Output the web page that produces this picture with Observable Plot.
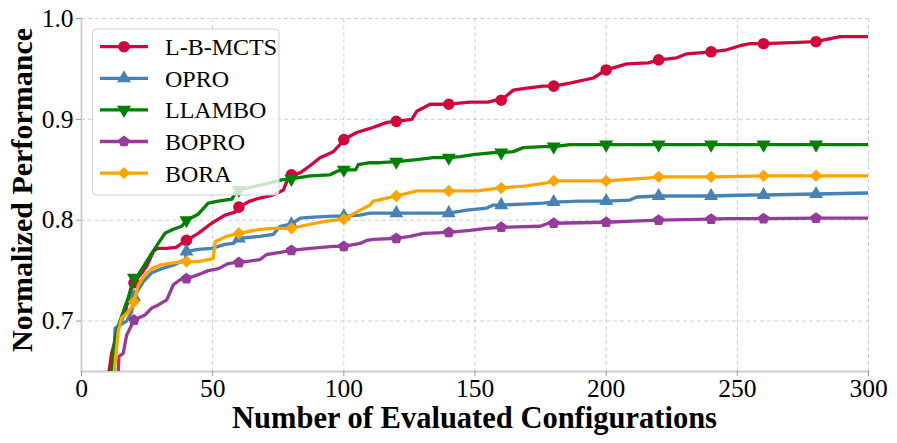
<!DOCTYPE html>
<html><head><meta charset="utf-8">
<script src="https://cdn.jsdelivr.net/npm/d3@7"></script>
<script src="https://cdn.jsdelivr.net/npm/@observablehq/plot@0.6"></script>
<style>body{margin:0;background:#fff}</style>
</head><body><div id="chart"></div>
<script>
const seriesNames = ["L-B-MCTS", "OPRO", "LLAMBO", "BOPRO", "BORA"];
const seriesColors = ["#d1063c", "#4682b4", "#008000", "#983a9c", "#ffa500"];
const xTicks = [0, 50, 100, 150, 200, 250, 300];
const yTicks = [0.7, 0.8, 0.9, 1.0];
const markerXs = [20, 40, 60, 80, 100, 120, 140, 160, 180, 200, 220, 240, 260, 280];

const lbmctsX = [10.5, 11.5, 14, 16.6, 19.1, 20, 23, 24.8, 27.4, 28.7, 32.5, 36, 38.2, 40, 44.5, 49.6, 54.7, 58.5, 60, 64.2, 68, 73.1, 77, 78.8, 80, 83.3, 87.1, 90.9, 96, 98.5, 100, 104.9, 110, 116.4, 120, 125.9, 127.8, 132.9, 140, 148.1, 155, 157.9, 160, 164.6, 169.7, 176, 180, 186.2, 195.1, 200, 207.9, 216, 220, 226.9, 230.7, 240, 246, 251, 254.9, 260, 271, 280, 285.4, 289.2, 300];
const lbmctsY = [0.65, 0.668, 0.693, 0.709, 0.733, 0.738, 0.748, 0.754, 0.769, 0.772, 0.772, 0.773, 0.777, 0.780, 0.787, 0.797, 0.805, 0.808, 0.813, 0.819, 0.822, 0.825, 0.830, 0.842, 0.845, 0.847, 0.854, 0.862, 0.868, 0.875, 0.880, 0.887, 0.891, 0.897, 0.898, 0.900, 0.908, 0.915, 0.915, 0.917, 0.917, 0.919, 0.919, 0.929, 0.931, 0.933, 0.933, 0.936, 0.941, 0.949, 0.955, 0.956, 0.959, 0.961, 0.965, 0.967, 0.969, 0.973, 0.975, 0.975, 0.976, 0.977, 0.980, 0.982, 0.982];

const oproX = [12.1, 12.8, 17.2, 19.1, 20, 23.6, 26.8, 30.6, 35.6, 39.5, 40, 44.5, 49.6, 54.7, 57.9, 60, 68, 73.1, 75.7, 80, 83.3, 88.4, 96, 100, 106.2, 110, 113.8, 120, 131.6, 140, 146.9, 154.5, 157, 160, 168.4, 176, 180, 190, 200, 209, 211.7, 220, 240, 254.9, 260, 280, 300];
const oproY = [0.65, 0.693, 0.700, 0.709, 0.724, 0.739, 0.748, 0.752, 0.756, 0.761, 0.769, 0.771, 0.772, 0.776, 0.777, 0.782, 0.784, 0.786, 0.794, 0.796, 0.802, 0.803, 0.804, 0.804, 0.805, 0.807, 0.807, 0.807, 0.807, 0.807, 0.810, 0.812, 0.815, 0.815, 0.816, 0.817, 0.818, 0.819, 0.819, 0.820, 0.823, 0.824, 0.824, 0.825, 0.825, 0.826, 0.827];

const llamboX = [11.5, 12.8, 14, 17.8, 20, 21.7, 25.5, 28, 31.8, 35, 38.2, 40, 44.5, 48.3, 52.2, 57.3, 59.2, 60, 66.8, 71.9, 76.3, 80, 87.1, 94.7, 97.9, 100, 104.5, 105.5, 110, 113.8, 120, 127.8, 134.1, 140, 144.3, 149.4, 157, 160, 164.6, 168.4, 176, 180, 186.2, 200, 220, 240, 260, 280, 300];
const llamboY = [0.65, 0.683, 0.695, 0.723, 0.743, 0.746, 0.762, 0.772, 0.787, 0.791, 0.794, 0.800, 0.806, 0.817, 0.819, 0.821, 0.829, 0.830, 0.834, 0.837, 0.840, 0.841, 0.844, 0.845, 0.849, 0.850, 0.850, 0.855, 0.857, 0.857, 0.858, 0.860, 0.862, 0.862, 0.863, 0.865, 0.867, 0.867, 0.868, 0.872, 0.873, 0.873, 0.875, 0.875, 0.875, 0.875, 0.875, 0.875, 0.875];

const boproX = [14.0, 14.3, 15.9, 17.2, 19.1, 20, 24.2, 26.8, 29.3, 32.5, 35, 37.6, 40, 44.5, 48.3, 52.2, 56, 58.5, 60, 68, 70.6, 75.7, 80, 87.1, 96, 100, 106.2, 108.7, 111.2, 120, 125.2, 130.3, 140, 148.1, 154.5, 160, 174.8, 178, 180, 200, 210.4, 220, 240, 246, 260, 280, 300];
const boproY = [0.65, 0.665, 0.668, 0.686, 0.696, 0.701, 0.706, 0.713, 0.716, 0.721, 0.736, 0.741, 0.742, 0.746, 0.750, 0.752, 0.757, 0.758, 0.758, 0.761, 0.766, 0.768, 0.770, 0.772, 0.774, 0.774, 0.777, 0.780, 0.781, 0.782, 0.784, 0.787, 0.788, 0.790, 0.792, 0.793, 0.794, 0.797, 0.797, 0.798, 0.799, 0.800, 0.801, 0.8015, 0.8015, 0.802, 0.802];

const boraX = [12.5, 14, 15.3, 17.8, 19.7, 20, 21.7, 24.2, 26.8, 30.6, 35.6, 40, 44.5, 48.3, 50.2, 51, 55.4, 60, 68, 73.1, 80, 87.1, 93.5, 100, 106.2, 110, 111.2, 116.4, 120, 127.8, 140, 150.7, 160, 169.7, 177.3, 180, 200, 216.7, 220, 240, 260, 280, 300];
const boraY = [0.65, 0.690, 0.703, 0.709, 0.716, 0.719, 0.736, 0.746, 0.752, 0.756, 0.758, 0.759, 0.759, 0.761, 0.762, 0.779, 0.784, 0.787, 0.791, 0.792, 0.792, 0.796, 0.799, 0.801, 0.810, 0.815, 0.819, 0.822, 0.824, 0.829, 0.829, 0.829, 0.832, 0.834, 0.837, 0.839, 0.839, 0.842, 0.843, 0.843, 0.844, 0.844, 0.844];

// custom symbols
const triDown = {draw(ctx, size) {
  const y = -Math.sqrt(size / (Math.sqrt(3) * 3)), s = Math.sqrt(3);
  ctx.moveTo(0, -2 * y); ctx.lineTo(-s * y, y); ctx.lineTo(s * y, y); ctx.closePath();
}};
const pentagon = {draw(ctx, size) {
  const r = Math.sqrt(size / (2.5 * Math.sin(2 * Math.PI / 5)));
  for (let i = 0; i < 5; i++) {
    const a = -Math.PI / 2 + i * 2 * Math.PI / 5;
    const px = r * Math.cos(a), py = r * Math.sin(a);
    i ? ctx.lineTo(px, py) : ctx.moveTo(px, py);
  }
  ctx.closePath();
}};
const seriesSymbols = [d3.symbolCircle, d3.symbolTriangle, triDown, pentagon, d3.symbolDiamond2];
const seriesR = [5.8, 5.2, 5.2, 5.2, 5.6];

const xs = [lbmctsX, oproX, llamboX, boproX, boraX];
const ys = [lbmctsY, oproY, llamboY, boproY, boraY];
const series = seriesNames.map((name, i) => ({
  name, color: seriesColors[i], symbol: seriesSymbols[i], r: seriesR[i],
  data: xs[i].map((x, j) => ({x, y: ys[i][j]}))
}));

const serif = "'Liberation Serif', 'DejaVu Serif', serif";
const grid = {stroke: "#b0b0b0", strokeOpacity: 0.6, strokeDasharray: "4,3", strokeWidth: 1};

const marks = [
  Plot.gridX(xTicks, grid),
  Plot.gridY(yTicks, grid),
  Plot.frame({anchor: "left", stroke: "#cccccc", strokeWidth: 1.8}),
  Plot.frame({anchor: "bottom", stroke: "#cccccc", strokeWidth: 1.8}),
];
for (const s of series) {
  marks.push(Plot.line(s.data, {x: "x", y: "y", stroke: s.color, strokeWidth: 3.3, strokeLinejoin: "round", clip: true}));
  marks.push(Plot.dot(s.data.filter(d => markerXs.includes(d.x)), {x: "x", y: "y", symbol: () => s.symbol, fill: s.color, r: s.r, stroke: "none", clip: true}));
}
marks.push(
  Plot.axisX({ticks: xTicks, tickSize: 5, tickPadding: 2, stroke: "#999", label: null, fill: "#000"}),
  Plot.axisY({ticks: yTicks, tickSize: 5, tickPadding: 3, stroke: "#999", label: null, fill: "#000", tickFormat: d3.format(".1f")})
);

const chart = Plot.plot({
  width: 897, height: 443,
  marginLeft: 81, marginRight: 29, marginTop: 18, marginBottom: 72,
  style: {fontFamily: serif, background: "#fff", color: "#000", overflow: "visible"},
  x: {domain: [0, 300]},
  y: {domain: [0.65, 1.0]},
  symbol: {type: "identity"},
  marks
});

const svg = d3.select(chart);
svg.selectAll('g[aria-label="x-axis tick label"], g[aria-label="y-axis tick label"]')
  .attr("font-size", 25.5).style("font-size", "25.5px").style("font-family", serif);

// axis titles
svg.append("text").attr("x", 474.5).attr("y", 428).attr("text-anchor", "middle")
  .style("font-family", serif).style("font-weight", "bold").style("font-size", "30.5px")
  .text("Number of Evaluated Configurations");
svg.append("text").attr("transform", "translate(32,190) rotate(-90)").attr("text-anchor", "middle")
  .style("font-family", serif).style("font-weight", "bold").style("font-size", "30px")
  .text("Normalized Performance");

// legend
const lg = svg.append("g");
lg.append("rect").attr("x", 92.5).attr("y", 29).attr("width", 186.5).attr("height", 166)
  .attr("rx", 4).attr("fill", "#fff").attr("fill-opacity", 0.8).attr("stroke", "#d0d0d0").attr("stroke-width", 1);
series.forEach((s, i) => {
  const cy = 46.7 + i * 31.6;
  lg.append("line").attr("x1", 100).attr("x2", 148).attr("y1", cy).attr("y2", cy)
    .attr("stroke", s.color).attr("stroke-width", 3.3);
  lg.append("path").attr("transform", `translate(124,${cy})`)
    .attr("d", d3.symbol().type(s.symbol).size(Math.PI * s.r * s.r)()).attr("fill", s.color);
  lg.append("text").attr("x", 165).attr("y", cy).attr("dy", "0.35em").attr("text-anchor", "start")
    .style("font-family", serif).style("font-size", "24px").text(s.name);
});

document.getElementById("chart").appendChild(chart);
</script>
</body></html>
